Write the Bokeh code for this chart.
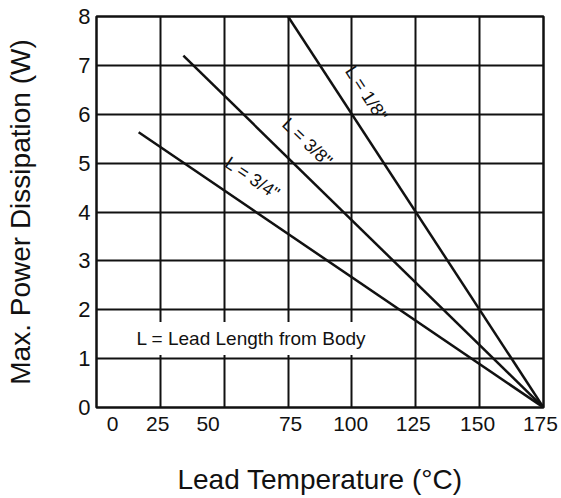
from bokeh.plotting import figure
from bokeh.models import FixedTicker, ColumnDataSource, Label, Range1d
from bokeh.core.properties import value
from bokeh.embed import file_html
from bokeh.resources import INLINE

# ---- data ----
temp_eighth = [75, 175]
power_eighth = [8.0, 0.0]
temp_three_eighths = [34.0, 175]
power_three_eighths = [7.2, 0.0]
temp_three_quarters = [16.5, 175]
power_three_quarters = [5.63, 0.0]

x_tick_labels = ["0", "25", "50", "75", "100", "125", "150", "175"]
x_label_pos = [6.3, 24, 43.7, 76, 99.5, 124, 149.2, 173.8]
x_grid_values = [25, 50, 75, 100, 125, 150]
y_tick_values = [0, 1, 2, 3, 4, 5, 6, 7, 8]
y_grid_values = [1, 2, 3, 4, 5, 6, 7]

curve_labels = ['L = 1/8"', 'L = 3/8"', 'L = 3/4"']
curve_label_x = [105.7, 82.6, 61.1]
curve_label_y = [6.42, 5.42, 4.69]
curve_label_angle = [-57, -44, -34]

note_text = "L = Lead Length from Body"
note_x = 13.3
note_y = 1.41

INK = "#111111"
FONT = "Liberation Sans"

p = figure(width=561, height=498, output_backend="svg", toolbar_location=None,
           x_range=Range1d(0, 175), y_range=Range1d(0, 8),
           min_border_left=96, min_border_right=18, min_border_top=16, min_border_bottom=91,
           background_fill_color="white", border_fill_color="white")

p.outline_line_color = INK
p.outline_line_width = 2.5
p.outline_line_alpha = 1.0

# grids
p.xgrid.ticker = FixedTicker(ticks=x_grid_values)
p.ygrid.ticker = FixedTicker(ticks=y_grid_values)
for g in (p.xgrid, p.ygrid):
    g.grid_line_color = INK
    g.grid_line_width = 2
    g.grid_line_alpha = 1.0

# axes
p.xaxis.ticker = FixedTicker(ticks=x_label_pos)
p.xaxis.major_label_overrides = {pos: lab for pos, lab in zip(x_label_pos, x_tick_labels)}
p.yaxis.ticker = FixedTicker(ticks=y_tick_values)
for ax in (p.xaxis, p.yaxis):
    ax.axis_line_color = None
    ax.major_tick_line_color = None
    ax.minor_tick_line_color = None
    ax.major_tick_in = 0
    ax.major_tick_out = 0
    ax.major_label_text_color = INK
    ax.major_label_text_font = FONT
    ax.axis_label_text_color = INK
    ax.axis_label_text_font_style = "normal"
    ax.axis_label_text_font = FONT

p.xaxis.major_label_text_font_size = "21px"
p.xaxis.major_label_standoff = 9
p.yaxis.major_label_text_font_size = "22px"
p.yaxis.major_label_standoff = 6

p.xaxis.axis_label = "Lead Temperature (°C)"
p.xaxis.axis_label_text_font_size = "28px"
p.xaxis.axis_label_standoff = 30
p.yaxis.axis_label = "Max. Power Dissipation (W)"
p.yaxis.axis_label_text_font_size = "28px"
p.yaxis.axis_label_standoff = 39

# curves
for xs, ys in ((temp_eighth, power_eighth),
               (temp_three_eighths, power_three_eighths),
               (temp_three_quarters, power_three_quarters)):
    p.line(xs, ys, line_color=INK, line_width=2.5)

# curve labels
src = ColumnDataSource(dict(x=curve_label_x, y=curve_label_y, text=curve_labels,
                            angle=curve_label_angle))
p.text(x="x", y="y", text="text", angle="angle", angle_units="deg", source=src,
       text_font=value(FONT), text_font_size="18px",
       text_color=INK, text_align="center", text_baseline="middle")

# note with white background
note = Label(x=note_x, y=note_y, text=note_text, text_font=FONT,
             text_font_size="19px", text_color=INK, text_align="left",
             text_baseline="middle", background_fill_color="white",
             background_fill_alpha=1.0, padding=6)
p.add_layout(note)

open("out.html", "w").write(file_html(p, INLINE))
